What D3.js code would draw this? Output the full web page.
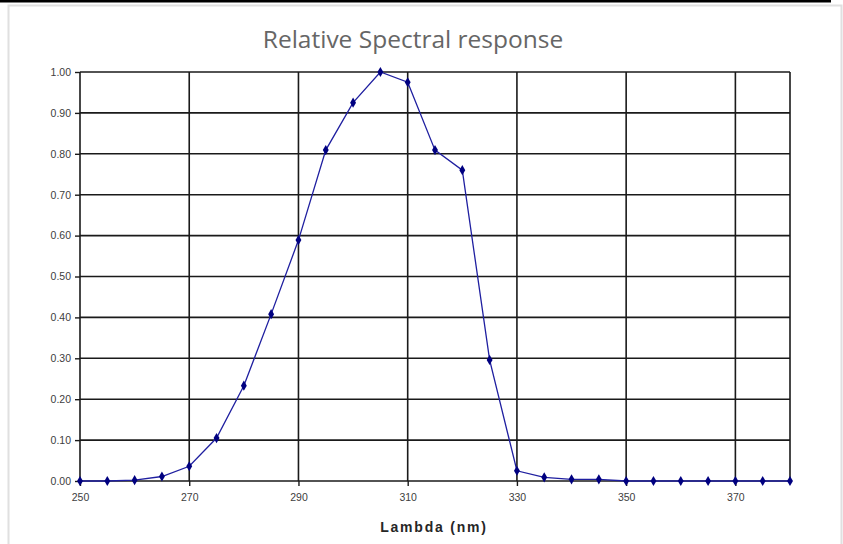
<!DOCTYPE html>
<html>
<head>
<meta charset="utf-8">
<script src="https://cdn.jsdelivr.net/npm/d3@7/dist/d3.min.js"></script>
<style>
html,body{margin:0;padding:0;background:#fff;}
svg{display:block;}
</style>
</head>
<body>
<svg id="chart" width="843" height="544"></svg>
<script>
const title = "Relative Spectral response";
const xTitle = "Lambda (nm)";
const wavelengths = [250,255,260,265,270,275,280,285,290,295,300,305,310,315,320,325,330,335,340,345,350,355,360,365,370,375,380];
const response = [0,0,0.002,0.011,0.036,0.105,0.233,0.408,0.589,0.809,0.925,1.0,0.975,0.809,0.760,0.296,0.025,0.009,0.004,0.004,0,0,0,0,0,0,0];
const xTicks = [250,270,290,310,330,350,370];
const yTicks = [0,0.1,0.2,0.3,0.4,0.5,0.6,0.7,0.8,0.9,1.0];

const svg = d3.select("#chart");
const W = 843, H = 544;
const m = {left:80, right:53, top:72, bottom:63};

// outer decorations
svg.append("rect").attr("x",0).attr("y",0).attr("width",831).attr("height",2.5).attr("fill","#000");
svg.append("path").attr("d","M8.5,544 V5.5 H841.5 V544").attr("fill","none").attr("stroke","#e0e0e0").attr("stroke-width",2);

const x = d3.scaleLinear().domain([250,380]).range([m.left, W - m.right]);
const y = d3.scaleLinear().domain([0,1]).range([H - m.bottom, m.top]);

const g = svg.append("g");
const gridColor = "#1a1a1a";

// horizontal gridlines
g.selectAll(".hg").data(yTicks).enter().append("line")
  .attr("x1", x(250)).attr("x2", x(380))
  .attr("y1", d=>y(d)).attr("y2", d=>y(d))
  .attr("stroke", gridColor).attr("stroke-width",1.6);
// vertical gridlines
g.selectAll(".vg").data([250,270,290,310,330,350,370,380]).enter().append("line")
  .attr("x1", d=>x(d)).attr("x2", d=>x(d))
  .attr("y1", y(0)).attr("y2", y(1))
  .attr("stroke", gridColor).attr("stroke-width",1.6);

// axes
const yAxis = d3.axisLeft(y).tickValues(yTicks).tickFormat(d3.format(".2f")).tickSize(5).tickPadding(4);
const ya = svg.append("g").attr("transform",`translate(${m.left},0)`).call(yAxis);
ya.select(".domain").remove();
ya.selectAll(".tick line").attr("stroke",gridColor).attr("stroke-width",1.4);
ya.selectAll("text").attr("font-family","Liberation Sans, Arial, sans-serif").attr("font-size","10.5px").attr("fill","#404040");

const xAxis = d3.axisBottom(x).tickValues(xTicks).tickFormat(d3.format("d")).tickSize(5).tickPadding(8);
const xa = svg.append("g").attr("transform",`translate(0,${y(0)})`).call(xAxis);
xa.select(".domain").remove();
xa.selectAll(".tick line").attr("stroke",gridColor).attr("stroke-width",1.4);
xa.selectAll("text").attr("font-family","Liberation Sans, Arial, sans-serif").attr("font-size","10.5px").attr("fill","#404040");

// line
const pts = wavelengths.map((w,i)=>[w,response[i]]);
const line = d3.line().x(d=>x(d[0])).y(d=>y(d[1]));
svg.append("path").datum(pts).attr("d",line).attr("fill","none").attr("stroke","#1f1fa0").attr("stroke-width",1.3);

// markers
svg.selectAll(".mk").data(pts).enter().append("path")
  .attr("transform", d=>`translate(${x(d[0])},${y(d[1])})`)
  .attr("d", d3.symbol().type(d3.symbolDiamond).size(30))
  .attr("fill","#000080");

// title
svg.append("text").attr("x",413).attr("y",48).attr("text-anchor","middle")
  .attr("font-family","Open Sans, Noto Sans, sans-serif").attr("font-size","24.5px").attr("fill","#666666")
  .text(title);

// x axis title
svg.append("text").attr("x",434).attr("y",532).attr("text-anchor","middle")
  .attr("font-family","Liberation Sans, Arial, sans-serif").attr("font-size","14px").attr("font-weight","bold")
  .attr("letter-spacing","1.8px").attr("fill","#262626")
  .text(xTitle);
</script>
</body>
</html>
